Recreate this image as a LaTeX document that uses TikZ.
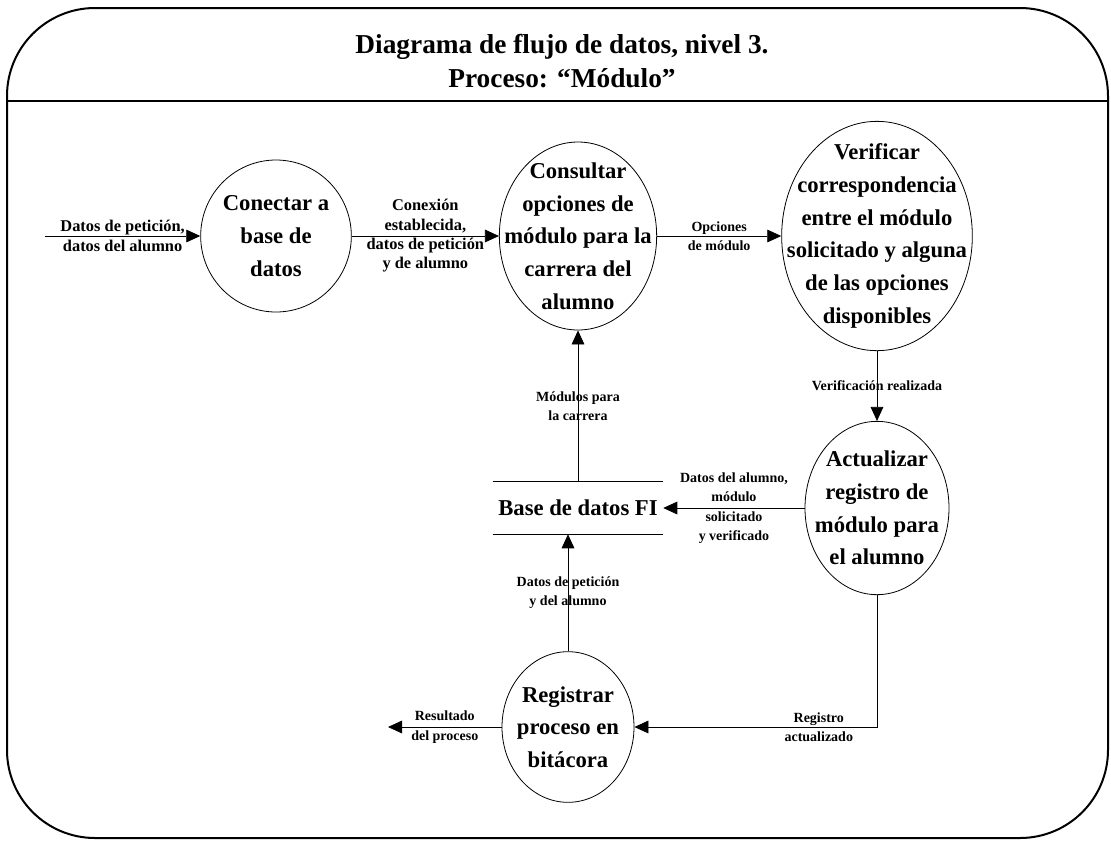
\documentclass[tikz,border=0pt]{standalone}
\usepackage{fontspec}
\setmainfont{Liberation Serif}
\usepackage{tikz}
\usetikzlibrary{positioning,shapes.geometric,arrows.meta}

\tikzset{
  proceso/.style={draw, ellipse, line width=0.6pt, inner sep=-30pt, align=center,
    font=\fontsize{17}{24.5}\selectfont\bfseries},
  almacen/.style={inner sep=0pt, minimum width=127.5pt, minimum height=39pt,
    font=\fontsize{17}{24.5}\selectfont\bfseries},
  flujo/.style={line width=0.6pt, -{Triangle[length=10.5pt,width=9.5pt]}},
  etiqueta/.style={align=center, inner sep=0pt,
    font=\fontsize{10.5}{14.5}\selectfont\bfseries},
  etiquetagrande/.style={etiqueta, font=\fontsize{12.3}{14.5}\selectfont\bfseries},
}

\begin{document}
\begin{tikzpicture}[x=0.75pt,y=-0.75pt]
    \useasboundingbox (0,0) rectangle (1111,840);

    % Draw frame and title
    \draw[line width=1.5pt, rounded corners=66pt] (7,8) rectangle (1108,838);
    \draw[line width=1.5pt] (7,101) -- (1108,101);
    \node[align=center, font=\fontsize{20.5}{25}\selectfont\bfseries] (titulo) at (562,61)
      {Diagrama de flujo de datos, nivel 3.\\Proceso: “Módulo”};

    % Processes
    \node[proceso, minimum width=113pt, minimum height=114pt] (conectar) at (276,236)
      {Conectar a\\base de\\datos};
    \node[proceso, minimum width=118pt, minimum height=141pt] (consultar) at (578,236)
      {Consultar\\opciones de\\módulo para la\\carrera del\\alumno};
    \node[proceso, minimum width=143pt, minimum height=172pt] (verificar) at (877,236)
      {Verificar\\correspondencia\\entre el módulo\\solicitado y alguna\\de las opciones\\disponibles};
    \node[proceso, minimum width=108pt, minimum height=130pt] (actualizar) at (877,508)
      {Actualizar\\registro de\\módulo para\\el alumno};
    \node[proceso, minimum width=99pt, minimum height=113pt] (registrar) at (568,727)
      {Registrar\\proceso en\\bitácora};

    % Data store
    \node[almacen] (bd) at (578,508) {Base de datos FI};
    \draw[line width=0.6pt] (bd.north west) -- (bd.north east);
    \draw[line width=0.6pt] (bd.south west) -- (bd.south east);

    % Free ends
    \coordinate (entrada) at (45,236);
    \coordinate (salida) at (388,727);

    % Data flows
    \draw[flujo] (entrada) -- (conectar)
      node[etiquetagrande, midway] {Datos de petición,\\datos del alumno};
    \draw[flujo] (conectar) -- (consultar)
      node[etiquetagrande, midway] {Conexión\\establecida,\\datos de petición\\y de alumno};
    \draw[flujo] (consultar) -- (verificar)
      node[etiqueta, midway] {Opciones\\de módulo};
    \draw[flujo] (verificar) -- (actualizar)
      node[etiqueta, midway] {Verificación realizada};
    \draw[flujo] (actualizar) -- (bd)
      node[etiqueta, midway] {Datos del alumno,\\módulo\\solicitado\\y verificado};
    \draw[flujo] (bd) -- (consultar)
      node[etiqueta, midway] {Módulos para\\la carrera};
    \draw[flujo] (registrar) -- (registrar.north |- bd.south)
      node[etiqueta, midway] {Datos de petición\\y del alumno};
    \draw[flujo] (actualizar) |- (registrar)
      node[etiqueta, pos=0.62] {Registro\\actualizado};
    \draw[flujo] (registrar) -- (salida)
      node[etiqueta, midway] {Resultado\\del proceso};

\end{tikzpicture}
\end{document}
